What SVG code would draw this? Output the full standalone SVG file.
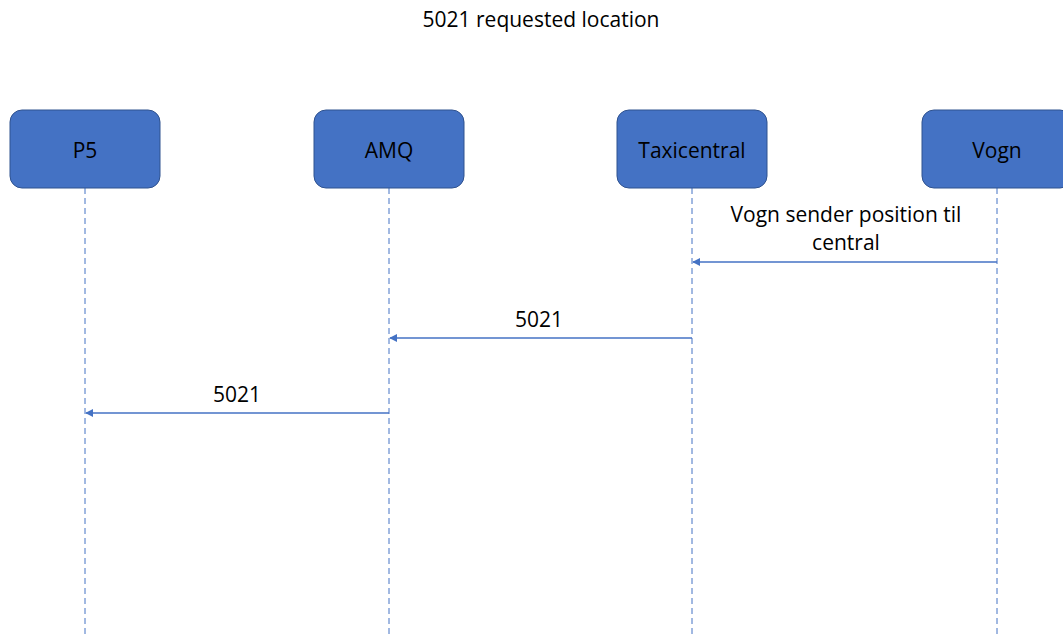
<svg xmlns="http://www.w3.org/2000/svg" width="1063" height="635" viewBox="0 0 1063 635">
<style>
.box{fill:#4472C4;stroke:#2F528F;stroke-width:1}
.lbl{font-family:"Open Sans","Liberation Sans",sans-serif;font-size:21px;fill:#000;text-anchor:middle}
.life{stroke:#4472C4;stroke-width:1;stroke-dasharray:6,4;fill:none}
.msg{stroke:#4472C4;stroke-width:1.3;fill:none;marker-end:url(#ah)}
</style>
<defs>
<marker id="ah" viewBox="0 0 10 10" refX="9" refY="5" markerWidth="8" markerHeight="8" markerUnits="userSpaceOnUse" orient="auto">
<path d="M0,0 L10,5 L0,10 z" fill="#4472C4"/>
</marker>
</defs>
<rect width="1063" height="635" fill="#fff"/>
<text class="lbl" x="541" y="27" font-size="20">5021 requested location</text>
<g id="lifelines">
<line class="life" x1="85" y1="188" x2="85" y2="635"/>
<line class="life" x1="389" y1="188" x2="389" y2="635"/>
<line class="life" x1="692" y1="188" x2="692" y2="635"/>
<line class="life" x1="997" y1="188" x2="997" y2="635"/>
</g>
<g id="P5"><rect class="box" x="10" y="110" width="150" height="78" rx="12"/><text class="lbl" x="85" y="158">P5</text></g>
<g id="AMQ"><rect class="box" x="314" y="110" width="150" height="78" rx="12"/><text class="lbl" x="389" y="158">AMQ</text></g>
<g id="Taxicentral"><rect class="box" x="617" y="110" width="150" height="78" rx="12"/><text class="lbl" x="692" y="158">Taxicentral</text></g>
<g id="Vogn"><rect class="box" x="922" y="110" width="150" height="78" rx="12"/><text class="lbl" x="997" y="158">Vogn</text></g>
<g id="connectors">
<line class="msg" x1="997" y1="262" x2="693" y2="262"/>
<line class="msg" x1="692" y1="338" x2="390" y2="338"/>
<line class="msg" x1="389" y1="413" x2="86" y2="413"/>
</g>
<g id="labels">
<text class="lbl" x="846" y="222">Vogn sender position til</text>
<text class="lbl" x="846" y="250">central</text>
<text class="lbl" x="539" y="327">5021</text>
<text class="lbl" x="237" y="402">5021</text>
</g>
</svg>
